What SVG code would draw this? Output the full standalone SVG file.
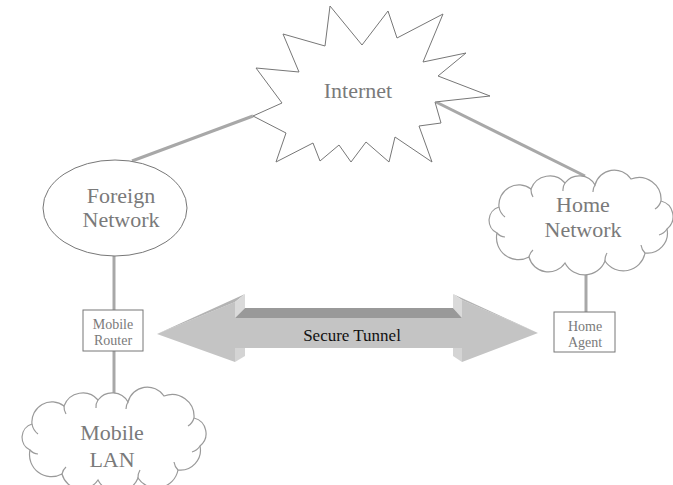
<svg xmlns="http://www.w3.org/2000/svg" xmlns:xlink="http://www.w3.org/1999/xlink" width="673" height="485" viewBox="0 0 673 485">
<style>
.lbl{font-family:"Liberation Serif","Times New Roman",serif;fill:#7a7a7a;text-anchor:middle}
.big{font-size:22px}
.small{font-size:14px}
.shape{fill:#fff;stroke:#777;stroke-width:1}
.cloud{fill:#fff;stroke:#9a9a9a;stroke-width:1.2}
.curl{fill:none;stroke:#9a9a9a;stroke-width:1.2}
.conn{stroke:#a8a8a8;stroke-width:3;fill:none}
</style>
<defs>
<path id="cloudShape" d="M14,60 A14,14 0 0 1 16,34 A20,20 0 0 1 48,16 A20,20 0 0 1 82,10 A18,18 0 0 1 112,12 A20,20 0 0 1 148,6 A22,22 0 0 1 178,28 A16,16 0 0 1 184,56 A20,20 0 0 1 162,80 A22,22 0 0 1 122,88 A22,22 0 0 1 82,90 A20,20 0 0 1 46,84 A22,22 0 0 1 14,60 Z"/>
<path id="cloudCurls" d="M16,34 A16,16 0 0 0 22,44 M48,16 A14,14 0 0 0 50,24 M82,10 A12,12 0 0 0 80,18 M112,12 A12,12 0 0 0 110,19 M178,28 A14,14 0 0 1 172,36 M184,56 A14,14 0 0 1 176,62 M162,80 A14,14 0 0 1 158,72 M122,88 A14,14 0 0 1 124,80 M46,84 A12,12 0 0 1 50,77 M14,60 A12,12 0 0 0 22,64"/>
</defs>

<g id="connectors">
<line class="conn" x1="132" y1="161" x2="253" y2="116"/>
<line class="conn" x1="436" y1="102" x2="585" y2="176"/>
<line class="conn" x1="114" y1="256" x2="114" y2="310"/>
<line class="conn" x1="114" y1="351" x2="114" y2="394"/>
<line class="conn" x1="586" y1="266" x2="586" y2="312"/>
</g>

<g id="internet">
<polygon class="shape" points="330,6 362,45 388,11 397,38 443,14 423,62 466,53 438,76 490,96 435,102 441,123 419,126 432,162 395,137 389,162 366,142 351,162 339,145 320,161 313,143 276,162 286,133 253,116 282,103 256,68 299,72 283,34 325,46"/>
<text class="lbl big" x="358" y="98">Internet</text>
</g>

<g id="foreign-network">
<ellipse class="shape" cx="115" cy="208" rx="72" ry="48"/>
<text class="lbl big" x="121" y="203">Foreign</text>
<text class="lbl big" x="121" y="227">Network</text>
</g>

<g id="home-network">
<g transform="translate(483,173)">
<use xlink:href="#cloudShape" class="cloud"/>
<use xlink:href="#cloudCurls" class="curl"/>
</g>
<text class="lbl big" x="583" y="212">Home</text>
<text class="lbl big" x="583" y="237">Network</text>
</g>

<g id="mobile-router">
<rect class="shape" x="83" y="310" width="60" height="41"/>
<text class="lbl small" x="113" y="329">Mobile</text>
<text class="lbl small" x="113" y="345">Router</text>
</g>

<g id="home-agent">
<rect class="shape" x="554" y="312" width="61" height="40"/>
<text class="lbl small" x="585" y="331">Home</text>
<text class="lbl small" x="585" y="347">Agent</text>
</g>

<g id="mobile-lan">
<g transform="translate(16,390)">
<use xlink:href="#cloudShape" class="cloud"/>
<use xlink:href="#cloudCurls" class="curl"/>
</g>
<text class="lbl big" x="112" y="440">Mobile</text>
<text class="lbl big" x="112" y="467">LAN</text>
</g>

<g id="secure-tunnel">
<polygon fill="#c4c4c4" points="157,334 235,302 235,318 462,318 462,300 538,333 462,362 462,348 235,348 235,362"/>
<polygon fill="#b4b4b4" points="157,334 245,294 235,302"/>
<polygon fill="#b4b4b4" points="453,294 538,333 462,300"/>
<polygon fill="#dadada" points="235,302 245,294 245,308 235,318"/>
<polygon fill="#dadada" points="453,294 462,300 462,318 453,308"/>
<polygon fill="#999" points="245,308 453,308 462,318 235,318"/>
<polygon fill="#d4d4d4" points="235,348 245,348 245,356 235,362"/>
<polygon fill="#d4d4d4" points="453,348 462,348 462,362 453,356"/>
<text x="352" y="341" font-family="Liberation Serif, Times New Roman, serif" font-size="17" fill="#111" text-anchor="middle">Secure Tunnel</text>
</g>
</svg>
